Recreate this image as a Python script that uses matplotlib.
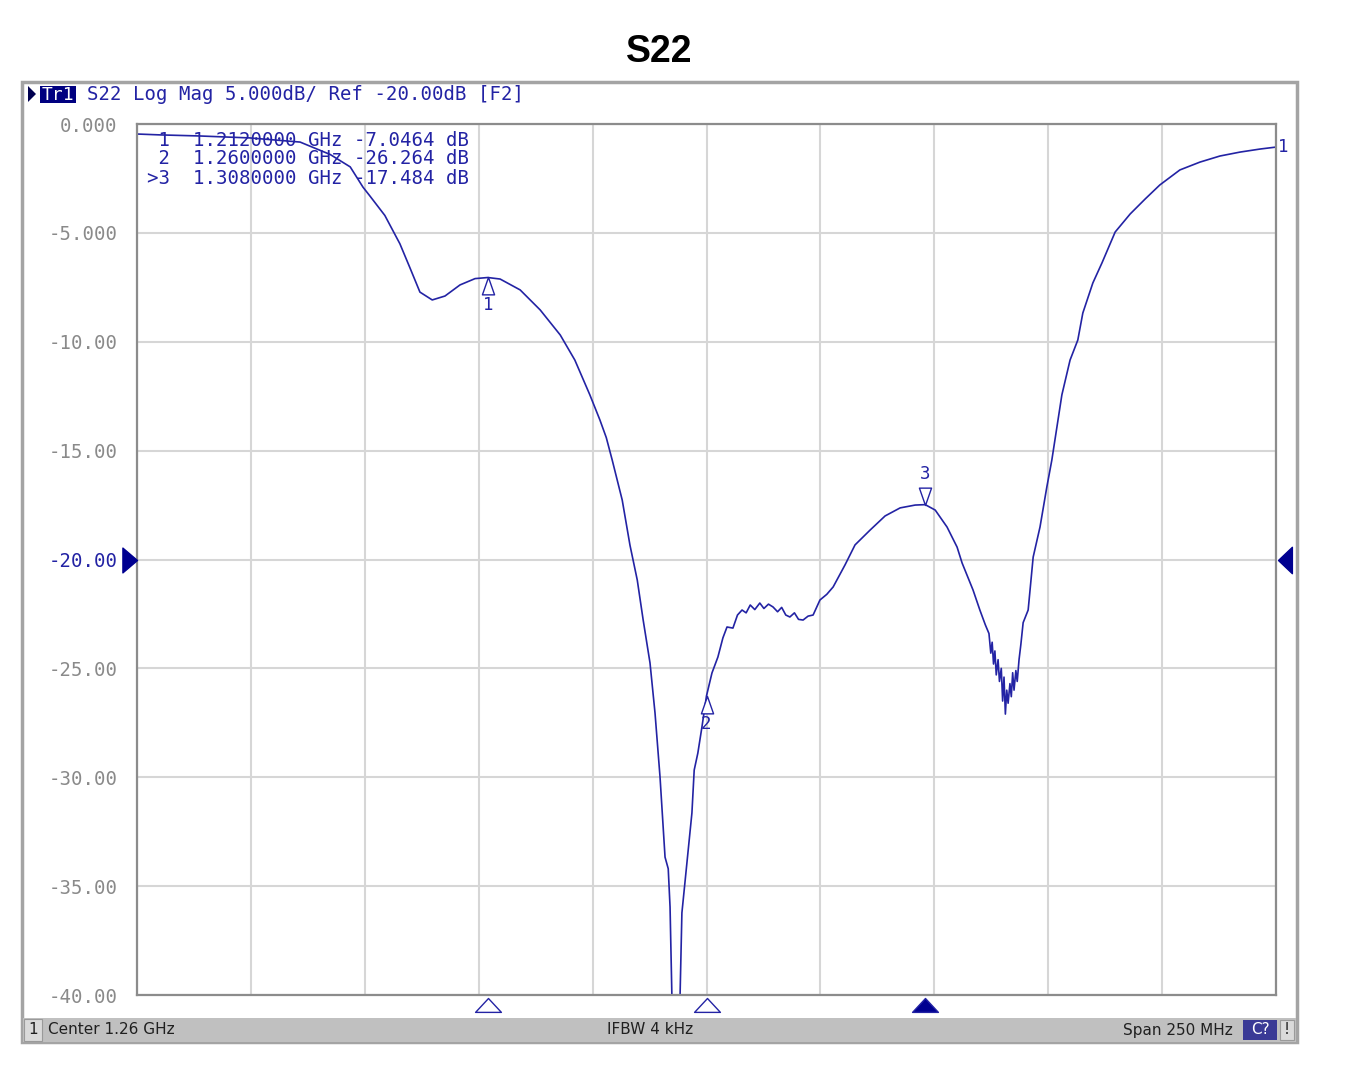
import numpy as np
import matplotlib
matplotlib.use("Agg")
import matplotlib.pyplot as plt
from matplotlib.path import Path
from matplotlib.patches import Rectangle, Polygon
import matplotlib.transforms as mtransforms

# S22 trace (MHz, dB)
freq_mhz = [
    1135.0, 1140.0, 1148.8, 1159.8, 1170.8, 1177.4, 1181.8, 1184.6, 1186.1, 1189.4,
    1192.7, 1194.9, 1197.1, 1199.8, 1202.6, 1205.9, 1209.2, 1212.0, 1214.7, 1219.1,
    1223.5, 1227.9, 1231.1, 1234.4, 1236.6, 1238.0, 1239.3, 1241.5, 1243.2, 1244.8,
    1246.1, 1247.6, 1248.7, 1249.8, 1250.9, 1251.6, 1252.0, 1252.4, 1253.3, 1254.2,
    1254.6, 1255.7, 1256.8, 1257.3, 1258.1, 1259.0, 1260.0, 1261.2, 1262.5, 1263.6,
    1264.5, 1265.8, 1266.8, 1267.8, 1268.7, 1269.6, 1270.6, 1271.7, 1272.6, 1273.6,
    1274.6, 1275.6, 1276.5, 1277.4, 1278.3, 1279.3, 1280.2, 1281.2, 1282.3, 1283.4,
    1284.9, 1286.4, 1287.8, 1290.4, 1292.6, 1295.9, 1299.2, 1302.5, 1305.8, 1308.0,
    1310.2, 1312.8, 1315.0, 1316.1, 1318.5, 1320.0, 1321.2, 1322.0, 1322.4, 1322.7,
    1323.0, 1323.3, 1323.6, 1324.0, 1324.3, 1324.7, 1325.0, 1325.3, 1325.6, 1325.9,
    1326.2, 1326.6, 1326.9, 1327.2, 1327.5, 1327.9, 1328.2, 1328.6, 1329.0, 1329.5,
    1330.6, 1331.7, 1333.2, 1334.7, 1335.8, 1338.0, 1339.8, 1341.5, 1342.6, 1344.8,
    1346.8, 1349.7, 1353.0, 1356.3, 1359.5, 1363.9, 1368.3, 1372.7, 1377.1, 1381.5,
    1385.0,
]
s22_db = [
    -0.46, -0.50, -0.55, -0.64, -0.83, -1.40, -1.97, -2.90, -3.30, -4.20,
    -5.50, -6.60, -7.72, -8.08, -7.90, -7.39, -7.10, -7.05, -7.12, -7.62,
    -8.54, -9.69, -10.84, -12.44, -13.59, -14.40, -15.43, -17.27, -19.34, -20.94,
    -22.78, -24.75, -27.05, -29.99, -33.67, -34.20, -35.96, -40.00, -40.00, -40.00,
    -36.23, -33.94, -31.64, -29.67, -28.89, -27.69, -26.26, -25.21, -24.48, -23.60,
    -23.10, -23.15, -22.55, -22.32, -22.45, -22.09, -22.30, -22.00, -22.25, -22.05,
    -22.18, -22.40, -22.20, -22.55, -22.64, -22.45, -22.75, -22.78, -22.60, -22.55,
    -21.86, -21.60, -21.26, -20.25, -19.33, -18.65, -18.00, -17.63, -17.50, -17.48,
    -17.73, -18.51, -19.43, -20.16, -21.40, -22.32, -23.00, -23.40, -24.30, -23.80,
    -24.80, -24.20, -25.30, -24.60, -25.60, -25.00, -26.50, -25.40, -27.10, -26.00,
    -26.60, -25.70, -26.30, -25.20, -26.00, -25.10, -25.60, -24.60, -23.90, -22.90,
    -22.32, -19.89, -18.51, -16.67, -15.43, -12.44, -10.84, -9.92, -8.68, -7.30,
    -6.38, -4.96, -4.13, -3.44, -2.80, -2.11, -1.75, -1.47, -1.29, -1.15,
    -1.06,
]

marker_ids = ["1", "2", "3"]
marker_freq_mhz = [1212.0, 1260.0, 1308.0]
marker_db = [-7.0464, -26.264, -17.484]
marker_table = [
    " 1  1.2120000 GHz -7.0464 dB",
    " 2  1.2600000 GHz -26.264 dB",
    ">3  1.3080000 GHz -17.484 dB",
]

y_ticks = [0, -5, -10, -15, -20, -25, -30, -35, -40]
y_tick_labels = ["0.000", "-5.000", "-10.00", "-15.00", "-20.00",
                 "-25.00", "-30.00", "-35.00", "-40.00"]
ref_level = -20.0
start_mhz, stop_mhz = 1135.0, 1385.0

W, H = 1347, 1065
TRACE = "#2323a4"
MONO = "DejaVu Sans Mono"
MONO_SIZE = 13.7


def fx(x):
    return x / W


def fy(y):
    return 1 - y / H


fig = plt.figure(figsize=(W / 100, H / 100), dpi=100)
fig.patch.set_facecolor("white")

# title
fig.text(fx(659), fy(52), "S22", ha="center", va="center",
         fontsize=27, fontweight="bold", family="Liberation Sans")

# instrument window frame
fig.add_artist(Rectangle((fx(22), fy(1042)), fx(1297 - 22), (1042 - 82) / H,
                         transform=fig.transFigure, fill=False,
                         edgecolor="#a4a4a4", lw=2.5))

# header line
fig.add_artist(Polygon([[fx(28), fy(86)], [fx(36), fy(94)], [fx(28), fy(102)]],
                       closed=True, transform=fig.transFigure,
                       facecolor="#000050", edgecolor="none"))
fig.add_artist(Rectangle((fx(40), fy(103)), fx(36), 17 / H,
                         transform=fig.transFigure, facecolor="#000080",
                         edgecolor="none"))
fig.text(fx(58), fy(94.5), "Tr1", ha="center", va="center", color="white",
         fontsize=13, family=MONO)
fig.text(fx(87), fy(94.5), "S22 Log Mag 5.000dB/ Ref -20.00dB [F2]",
         ha="left", va="center", color=TRACE, fontsize=MONO_SIZE, family=MONO)

# status bar
fig.add_artist(Rectangle((fx(23), fy(1042)), fx(1296 - 23), 24 / H,
                         transform=fig.transFigure, facecolor="#c0c0c0",
                         edgecolor="none"))
fig.add_artist(Rectangle((fx(24), fy(1041)), fx(18), 22 / H,
                         transform=fig.transFigure, facecolor="#dadada",
                         edgecolor="#9a9a9a", lw=0.8))
fig.add_artist(Rectangle((fx(1243), fy(1040)), fx(34), 20 / H,
                         transform=fig.transFigure, facecolor="#3a3a96",
                         edgecolor="none"))
fig.add_artist(Rectangle((fx(1280), fy(1040)), fx(14), 20 / H,
                         transform=fig.transFigure, facecolor="#dadada",
                         edgecolor="#9a9a9a", lw=0.8))
status_font = dict(fontsize=11, family="DejaVu Sans", va="center", color="#202020")
fig.text(fx(33), fy(1030), "1", ha="center", **status_font)
fig.text(fx(48), fy(1030), "Center 1.26 GHz", ha="left", **status_font)
fig.text(fx(650), fy(1030), "IFBW 4 kHz", ha="center", **status_font)
fig.text(fx(1233), fy(1030), "Span 250 MHz", ha="right", **status_font)
fig.text(fx(1260), fy(1030), "C?", ha="center", fontsize=11,
         family="DejaVu Sans", va="center", color="white")
fig.text(fx(1287), fy(1030), "!", ha="center", **status_font)

# plot area
ax = fig.add_axes([fx(137), fy(995), fx(1139), 871 / H])
ax.plot(freq_mhz, s22_db, color=TRACE, lw=1.2)
ax.set_xlim(start_mhz, stop_mhz)
ax.set_ylim(-40, 0)
ax.set_xticks(np.linspace(start_mhz, stop_mhz, 11))
ax.set_xticklabels([])
ax.set_yticks(y_ticks)
ax.set_yticklabels(y_tick_labels, family=MONO, fontsize=MONO_SIZE, color="#8a8a8a")
ax.tick_params(axis="both", length=0)
ax.tick_params(axis="y", pad=14)
for lab, v in zip(ax.get_yticklabels(), y_ticks):
    if v == ref_level:
        lab.set_color(TRACE)
ax.grid(True, color="#d6d6d6", lw=1.5)
ax.set_axisbelow(True)
for sp in ax.spines.values():
    sp.set_color("#8c8c8c")
    sp.set_linewidth(1.6)

# marker table
for i, line in enumerate(marker_table):
    fig.text(fx(147), fy(140 + 19 * i), line, ha="left", va="center",
             color=TRACE, fontsize=MONO_SIZE, family=MONO)

# marker symbols on the trace
up_tri = Path([(0, 0), (-0.35, -1), (0.35, -1), (0, 0)],
              [Path.MOVETO, Path.LINETO, Path.LINETO, Path.CLOSEPOLY])
down_tri = Path([(0, 0), (-0.35, 1), (0.35, 1), (0, 0)],
                [Path.MOVETO, Path.LINETO, Path.LINETO, Path.CLOSEPOLY])
for mid, f, v in zip(marker_ids, marker_freq_mhz, marker_db):
    if mid == "3":
        ax.plot(f, v, marker=down_tri, ms=25, mfc="white", mec=TRACE, mew=1.0,
                ls="none", zorder=5)
        ax.annotate(mid, (f, v), xytext=(0, 22), textcoords="offset points",
                    ha="center", va="center", color=TRACE, fontsize=12.5,
                    family=MONO)
    else:
        ax.plot(f, v, marker=up_tri, ms=25, mfc="white", mec=TRACE, mew=1.0,
                ls="none", zorder=5)
        ax.annotate(mid, (f, v), xytext=(0, -20), textcoords="offset points",
                    ha="center", va="center", color=TRACE, fontsize=12.5,
                    family=MONO)

# marker positions under the grid
bx = mtransforms.blended_transform_factory(ax.transData, ax.transAxes)
bottom_tri = Path([(0, 0), (-0.93, -1), (0.93, -1), (0, 0)],
                  [Path.MOVETO, Path.LINETO, Path.LINETO, Path.CLOSEPOLY])
for mid, f in zip(marker_ids, marker_freq_mhz):
    face = "#000090" if mid == "3" else "white"
    ax.plot(f, -0.003, marker=bottom_tri, ms=20, mfc=face, mec=TRACE, mew=1.0,
            ls="none", transform=bx, clip_on=False, zorder=6)

# reference level arrows
by = mtransforms.blended_transform_factory(ax.transAxes, ax.transData)
left_tri = Path([(0, 0), (-1, 0.85), (-1, -0.85), (0, 0)],
                [Path.MOVETO, Path.LINETO, Path.LINETO, Path.CLOSEPOLY])
right_tri = Path([(0, 0), (1, 0.95), (1, -0.95), (0, 0)],
                 [Path.MOVETO, Path.LINETO, Path.LINETO, Path.CLOSEPOLY])
ax.plot(0, ref_level, marker=left_tri, ms=21, color="#000090", ls="none",
        transform=by, clip_on=False, zorder=6)
ax.plot(1.0015, ref_level, marker=right_tri, ms=20, color="#000090", ls="none",
        transform=by, clip_on=False, zorder=6)

# trace number at the right end
ax.annotate("1", (stop_mhz, s22_db[-1]), xytext=(5, 0), textcoords="offset points",
            ha="center", va="center", color=TRACE, fontsize=12.5, family=MONO,
            annotation_clip=False)

fig.savefig("out.png", dpi=100)
